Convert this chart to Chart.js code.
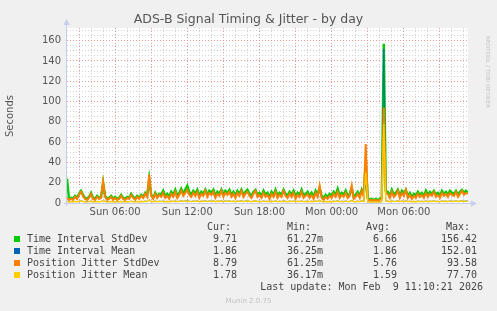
<!DOCTYPE html>
<html>
<head>
<meta charset="utf-8">
<script src="https://cdn.jsdelivr.net/npm/chart.js@4"></script>
<style>
  body { margin: 0; background: #f0f0f0; }
  #wrap { position: relative; width: 497px; height: 311px; background: #f0f0f0; overflow: hidden; }
  #c { position: absolute; left: 0; top: 0; }
  .t { position: absolute; white-space: pre; color: #555; }
  .mono { font-family: "DejaVu Sans Mono", monospace; font-size: 10px; line-height: 12px; color: #444; }
  .sq { position: absolute; width: 6px; height: 6px; }
</style>
</head>
<body>
<div id="wrap">
  <canvas id="c" width="497" height="311"></canvas>
  <div class="t" style="left:0;width:497px;top:11px;text-align:center;font-family:'DejaVu Sans';font-size:12.5px;color:#555;">ADS-B Signal Timing &amp; Jitter - by day</div>
  <div id="legend"></div>
  <div class="t" style="left:0;width:497px;top:297px;text-align:center;font-family:'DejaVu Sans';font-size:7px;color:#c0c0c0;">Munin 2.0.75</div>
</div>
<script>
// time in hours from Sun 00:00, one sample every 10 minutes
const startHour = 2;
const stepHours = 1 / 6;

const tiStdDev = [
  24,4,5,4,7,5,9,12,8,5, 4,6,10,5,4,7,5,6,20,7, 4,5,7,4,6,4,5,8,5,4, 6,5,9,6,4,7,5,8,6,10,
  7,24,8,5,10,6,9,8,12,7, 9,6,11,8,13,7,10,14,9,13, 17,11,8,12,9,13,7,11,9,13, 8,12,10,13,7,11,9,13,8,12,
  10,13,8,11,7,12,9,13,8,11, 13,9,7,11,13,8,10,7,12,8, 10,6,11,8,13,7,10,8,13,9, 7,11,8,12,6,10,8,13,7,9,
  11,7,10,6,12,8,15,7,5,8, 6,9,7,11,8,14,7,10,8,12, 7,9,15,6,8,11,7,13,8,40, 5,3,4,3,4,3,4,5,157,12,
  11,7,13,8,10,13,7,12,9,13, 7,10,6,9,7,11,8,10,7,12, 8,11,9,12,8,10,7,12,9,11, 8,12,10,9,12,8,11,13,10,12,10
];
const tiMean = [
  1.6,1.3,1.4,1.3,1.6,1.4,1.8,2.1,1.7,1.4, 1.3,1.5,1.9,1.4,1.3,1.6,1.4,1.5,2.6,1.6, 1.3,1.4,1.6,1.3,1.5,1.3,1.4,1.7,1.4,1.3, 1.5,1.4,1.8,1.5,1.3,1.6,1.4,1.7,1.5,1.9,
  1.6,3.2,1.7,1.4,1.9,1.5,1.8,1.6,2.0,1.5, 1.7,1.4,1.9,1.6,2.1,1.5,1.8,2.2,1.7,2.0, 2.4,1.8,1.6,2.0,1.7,2.1,1.5,1.9,1.7,2.2, 1.6,2.0,1.8,2.1,1.5,1.9,1.7,2.2,1.6,2.0,
  1.8,2.1,1.6,1.9,1.5,2.0,1.7,2.2,1.6,1.9, 2.1,1.7,1.5,1.9,2.2,1.6,1.8,1.5,2.0,1.6, 1.8,1.4,1.9,1.6,2.1,1.5,1.8,1.6,2.2,1.7, 1.5,1.9,1.6,2.0,1.4,1.8,1.6,2.1,1.5,1.7,
  1.9,1.5,1.8,1.4,2.0,1.6,2.6,1.5,1.3,1.6, 1.4,1.7,1.5,1.9,1.6,2.2,1.5,1.8,1.6,2.0, 1.5,1.7,2.6,1.4,1.6,1.9,1.5,2.2,1.6,20, 1.4,1.2,1.3,1.2,1.3,1.2,1.3,1.4,152,2.0,
  1.9,1.5,2.1,1.6,1.8,2.2,1.5,2.0,1.7,2.3, 1.5,1.8,1.4,1.7,1.5,1.9,1.6,1.8,1.5,2.0, 1.6,1.9,1.7,2.1,1.6,1.8,1.5,2.0,1.7,1.9, 1.6,2.0,1.8,1.7,2.1,1.6,1.9,2.2,1.8,2.0,1.9
];
const pjStdDev = [
  5,3,4,3,6,4,8,11,7,4, 3,5,9,4,3,6,4,5,21,6, 3,4,6,3,5,3,4,7,4,3, 5,4,8,5,3,6,4,7,5,9,
  6,28,7,4,9,5,8,6,10,5, 7,4,9,6,11,5,8,12,7,10, 13,8,6,10,7,11,5,9,7,12, 6,10,8,11,5,9,7,12,6,10,
  8,11,6,9,5,10,7,12,6,9, 11,7,5,9,12,6,8,5,10,6, 8,4,9,6,11,5,8,6,12,7, 5,9,6,10,4,8,6,11,5,7,
  9,5,8,4,10,6,17,5,3,6, 4,7,5,9,6,11,5,8,6,10, 5,7,17,4,6,9,5,12,6,58, 4,2,3,2,3,2,3,4,94,10,
  9,5,11,6,8,12,5,10,7,13, 5,8,4,7,5,9,6,8,5,10, 6,9,7,11,6,8,5,10,7,9, 6,10,8,7,11,6,9,12,8,10,9
];
const pjMean = [
  1.4,1.1,1.2,1.1,1.4,1.2,1.6,1.9,1.5,1.2, 1.1,1.3,1.7,1.2,1.1,1.4,1.2,1.3,2.4,1.4, 1.1,1.2,1.4,1.1,1.3,1.1,1.2,1.5,1.2,1.1, 1.3,1.2,1.6,1.3,1.1,1.4,1.2,1.5,1.3,1.7,
  1.4,3.0,1.5,1.2,1.7,1.3,1.6,1.4,1.8,1.3, 1.5,1.2,1.7,1.4,1.9,1.3,1.6,2.0,1.5,1.8, 2.0,1.6,1.4,1.8,1.5,1.9,1.3,1.7,1.5,2.0, 1.4,1.8,1.6,1.9,1.3,1.7,1.5,2.0,1.4,1.8,
  1.6,1.9,1.4,1.7,1.3,1.8,1.5,2.0,1.4,1.7, 1.9,1.5,1.3,1.7,2.0,1.4,1.6,1.3,1.8,1.4, 1.6,1.2,1.7,1.4,1.9,1.3,1.6,1.4,2.0,1.5, 1.3,1.7,1.4,1.8,1.2,1.6,1.4,1.9,1.3,1.5,
  1.7,1.3,1.6,1.2,1.8,1.4,2.4,1.3,1.1,1.4, 1.2,1.5,1.3,1.7,1.4,2.0,1.3,1.6,1.4,1.8, 1.3,1.5,2.4,1.2,1.4,1.7,1.3,2.0,1.4,30, 1.2,1.0,1.1,1.0,1.1,1.0,1.1,1.2,78,1.8,
  1.7,1.3,1.9,1.4,1.6,2.0,1.3,1.8,1.5,2.1, 1.3,1.6,1.2,1.5,1.3,1.7,1.4,1.6,1.3,1.8, 1.4,1.7,1.5,1.9,1.4,1.6,1.3,1.8,1.5,1.7, 1.4,1.8,1.6,1.5,1.9,1.4,1.7,2.0,1.6,1.8,1.8
];

const xLabels = { 6: 'Sun 06:00', 12: 'Sun 12:00', 18: 'Sun 18:00', 24: 'Mon 00:00', 30: 'Mon 06:00' };

const seriesNames = ['Time Interval StdDev', 'Time Interval Mean', 'Position Jitter StdDev', 'Position Jitter Mean'];
const seriesColors = ['#00cc00', '#0066b3', '#ff8000', '#ffcc00'];
const curVals = ['9.71', '1.86', '8.79', '1.78'];
const minVals = ['61.27m', '36.25m', '61.25m', '36.17m'];
const avgVals = ['6.66', '1.86', '5.76', '1.59'];
const maxVals = ['156.42', '152.01', '93.58', '77.70'];

function pts(arr) {
  return arr.map((v, i) => ({ x: startHour + i * stepHours, y: v }));
}

const allSeries = [tiStdDev, tiMean, pjStdDev, pjMean];
const widths = [2.4, 0.8, 2, 1.4];
const orders = [4, 3, 2, 1];

const majorGrid = 'rgba(230,140,140,0.9)';
const minorGrid = 'rgba(205,205,205,0.9)';

// axis arrows and side texts like rrdtool
const decor = {
  id: 'decor',
  afterDraw(chart) {
    const a = chart.chartArea, ctx = chart.ctx;
    ctx.save();
    ctx.strokeStyle = '#c4ccf0';
    ctx.fillStyle = '#c4ccf0';
    ctx.lineWidth = 1;
    ctx.beginPath();
    ctx.moveTo(a.left - 0.5, a.bottom + 3);
    ctx.lineTo(a.left - 0.5, a.top - 4);
    ctx.moveTo(a.left - 3, a.bottom + 0.5);
    ctx.lineTo(a.right + 4, a.bottom + 0.5);
    ctx.stroke();
    ctx.beginPath();
    ctx.moveTo(a.left - 3.5, a.top - 3);
    ctx.lineTo(a.left + 2.5, a.top - 3);
    ctx.lineTo(a.left - 0.5, a.top - 9);
    ctx.fill();
    ctx.beginPath();
    ctx.moveTo(a.right + 3, a.bottom - 2.5);
    ctx.lineTo(a.right + 3, a.bottom + 3.5);
    ctx.lineTo(a.right + 9, a.bottom + 0.5);
    ctx.fill();

    ctx.textAlign = 'center';
    ctx.textBaseline = 'middle';
    ctx.save();
    ctx.translate(10, 116);
    ctx.rotate(-Math.PI / 2);
    ctx.fillStyle = '#555';
    ctx.font = '10px "DejaVu Sans"';
    ctx.fillText('Seconds', 0, 0);
    ctx.restore();
    ctx.save();
    ctx.translate(487, 72);
    ctx.rotate(Math.PI / 2);
    ctx.fillStyle = '#c4c4c4';
    ctx.font = '5.6px "DejaVu Sans"';
    ctx.fillText('RRDTOOL / TOBI OETIKER', 0, 0);
    ctx.restore();
    ctx.restore();
  }
};

const plotBg = {
  id: 'plotBg',
  beforeDraw(chart) {
    const a = chart.chartArea, ctx = chart.ctx;
    ctx.save();
    ctx.fillStyle = '#ffffff';
    ctx.fillRect(a.left, a.top, a.right - a.left, a.bottom - a.top);
    ctx.restore();
  }
};

new Chart(document.getElementById('c'), {
  type: 'line',
  data: {
    datasets: allSeries.map((s, i) => ({
      label: seriesNames[i],
      data: pts(s),
      borderColor: seriesColors[i],
      backgroundColor: seriesColors[i],
      borderWidth: widths[i],
      pointRadius: 0,
      tension: 0,
      order: orders[i]
    }))
  },
  options: {
    responsive: false,
    animation: false,
    layout: { padding: { left: 0, right: 29, top: 28, bottom: 88 } },
    plugins: { legend: { display: false }, tooltip: { enabled: false } },
    scales: {
      x: {
        type: 'linear',
        min: startHour,
        max: startHour + 200 * stepHours,
        afterFit(scale) { scale.height = 20; },
        afterBuildTicks(scale) {
          const t = [];
          for (let h = 3; h <= 35; h++) t.push({ value: h });
          scale.ticks = t;
        },
        ticks: {
          autoSkip: false,
          maxRotation: 0,
          padding: 3,
          color: '#555',
          font: { family: 'DejaVu Sans', size: 10 },
          callback: v => xLabels[v] || ''
        },
        grid: {
          drawTicks: false,
          color: c => (c.tick && c.tick.value % 3 === 0) ? majorGrid : minorGrid
        },
        border: { display: false, dash: [1, 2] }
      },
      y: {
        min: 0,
        max: 172.5,
        afterFit(scale) { scale.width = 67; },
        afterBuildTicks(scale) {
          const t = [];
          for (let v = 0; v <= 170; v += 5) t.push({ value: v });
          scale.ticks = t;
        },
        ticks: {
          autoSkip: false,
          padding: 6,
          color: '#555',
          font: { family: 'DejaVu Sans', size: 10 },
          callback: v => (v % 20 === 0 ? String(v) : '')
        },
        grid: {
          drawTicks: false,
          color: c => (c.tick && c.tick.value % 20 === 0) ? majorGrid : minorGrid
        },
        border: { display: false, dash: [1, 2] }
      }
    }
  },
  plugins: [plotBg, decor]
});

// legend table under the plot
const lg = document.getElementById('legend');
function put(text, left, top, right) {
  const d = document.createElement('div');
  d.className = 't mono';
  d.textContent = text;
  d.style.top = top + 'px';
  if (right) { d.style.right = (497 - left) + 'px'; } else { d.style.left = left + 'px'; }
  lg.appendChild(d);
}
put('Cur:', 231, 221, true);
put('Min:', 311, 221, true);
put('Avg:', 390, 221, true);
put('Max:', 470, 221, true);
seriesNames.forEach((n, i) => {
  const y = 233 + i * 12;
  const sq = document.createElement('div');
  sq.className = 'sq';
  sq.style.left = '14px';
  sq.style.top = (y + 3) + 'px';
  sq.style.background = seriesColors[i];
  lg.appendChild(sq);
  put(n, 27, y);
  put(curVals[i], 237, y, true);
  put(minVals[i], 323, y, true);
  put(avgVals[i], 397, y, true);
  put(maxVals[i], 477, y, true);
});
put('Last update: Mon Feb  9 11:10:21 2026', 483, 281, true);
</script>
</body>
</html>
